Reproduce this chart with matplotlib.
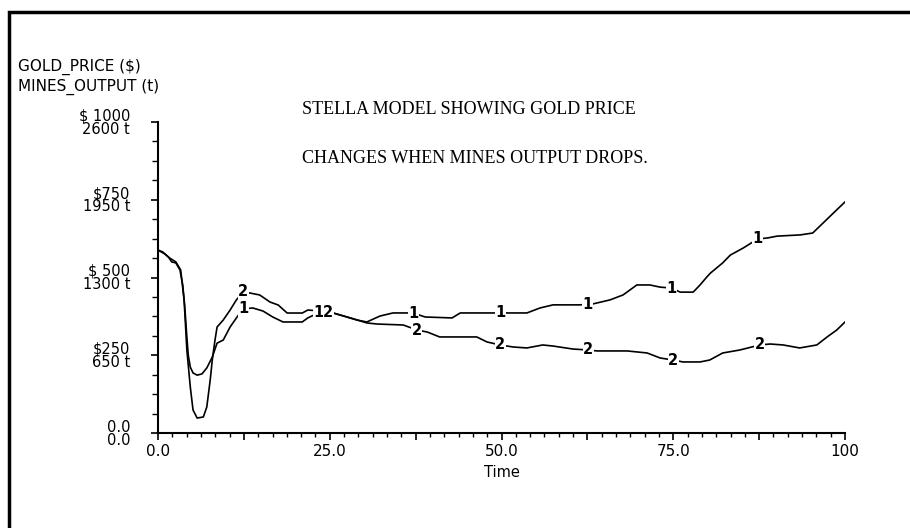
import matplotlib.pyplot as plt
import numpy as np
from matplotlib.patches import Rectangle
from matplotlib.ticker import MultipleLocator, FixedLocator

# series 1: gold price ($)
time_1 = [0, 0.7, 1.5, 2.0, 2.6, 3.2, 3.6, 3.9, 4.2, 4.4, 4.7, 5.1, 5.7, 6.4, 7.1, 7.9, 8.6, 9.5,
          10.5, 11.7, 12.4, 13.8, 15.3, 16.7, 18.2, 21.0, 21.8, 23.6, 25.5, 27.5, 29.0, 30.4,
          32.3, 34.2, 37.1, 38.9, 42.8, 44.0, 47.9, 49.8, 53.7, 55.6, 57.5, 61.4, 63.3, 65.8,
          67.7, 69.7, 71.6, 73.1, 74.8, 76.0, 77.9, 78.9, 79.9, 80.4, 82.2, 83.3, 85.2, 87.3,
          88.7, 90.1, 93.5, 95.3, 96.8, 98.3, 100]
gold_price = [588, 582, 566, 550, 547, 524, 476, 405, 309, 251, 212, 193, 186, 190, 209, 244, 289, 299,
              341, 379, 399, 402, 392, 373, 357, 357, 370, 389, 386, 373, 363, 357,
              376, 386, 386, 373, 370, 386, 386, 386, 386, 402, 412, 412, 415, 428,
              444, 476, 476, 469, 466, 453, 453, 476, 502, 514, 547, 572, 595, 624,
              627, 633, 637, 643, 675, 707, 743]

# series 2: mines output (t)
time_2 = [0, 1.0, 1.7, 2.6, 3.3, 3.8, 4.2, 4.7, 5.1, 5.7, 6.6, 7.1, 7.6, 7.9, 8.3, 8.6, 9.5, 10.5,
          11.4, 12.4, 13.4, 14.8, 16.3, 17.5, 18.8, 21.0, 21.8, 23.6, 25.5, 27.5, 29.0, 30.4,
          31.9, 35.7, 37.7, 39.2, 41.0, 46.4, 47.9, 49.8, 51.7, 53.7, 56.0, 57.5, 60.4, 62.6,
          63.9, 68.3, 71.2, 73.1, 75.0, 76.4, 78.9, 80.3, 82.2, 84.7, 87.6, 89.1, 91.0, 93.4,
          95.9, 97.4, 98.8, 100]
mines_output = [1530, 1496, 1463, 1430, 1363, 1112, 694, 385, 192, 125, 134, 217, 443, 610, 778, 886, 945, 1028,
                1112, 1179, 1170, 1154, 1095, 1070, 1003, 1003, 1028, 1020, 1003, 970, 945, 920,
                911, 903, 861, 844, 803, 803, 761, 736, 719, 711, 736, 727, 702, 694,
                686, 686, 669, 627, 610, 594, 594, 610, 669, 694, 736, 744, 736, 711,
                736, 803, 861, 928]

label_times_1 = [12.5, 23.4, 37.2, 49.8, 62.5, 74.8, 87.3]
label_times_2 = [12.4, 24.8, 37.7, 49.8, 62.6, 75.0, 87.6]

gold_ticks = [0, 250, 500, 750, 1000]
gold_tick_labels = ['0.0', '$250', '$ 500', '$750', '$ 1000']
mines_tick_labels = ['0.0', '650 t', '1300 t', '1950 t', '2600 t']
time_ticks = [0, 12.5, 25, 37.5, 50, 62.5, 75, 87.5, 100]
time_tick_labels = ['0.0', '', '25.0', '', '50.0', '', '75.0', '', '100']

fig = plt.figure(figsize=(9.1, 5.28), dpi=100)
ax = fig.add_axes([158/910, 1-433/528, (845-158)/910, (433-122)/528])

ax.plot(time_1, gold_price, color='black', lw=1.2)
ax.set_xlim(0, 100)
ax.set_ylim(0, 1000)

ax2 = ax.twinx()
ax2.plot(time_2, mines_output, color='black', lw=1.2)
ax2.set_ylim(0, 2600)
ax2.axis('off')

# curve number labels
for t in label_times_1:
    ax2.text(t, np.interp(t, time_1, gold_price), '1', transform=ax.transData,
             ha='center', va='center', fontsize=10.5, fontweight='bold', zorder=5,
             bbox=dict(fc='white', ec='none', pad=0.3))
for t in label_times_2:
    ax2.text(t, np.interp(t, time_2, mines_output), '2',
             ha='center', va='center', fontsize=10.5, fontweight='bold', zorder=5,
             bbox=dict(fc='white', ec='none', pad=0.3))

for s in ['top', 'right']:
    ax.spines[s].set_visible(False)
ax.spines['left'].set_linewidth(1.5)
ax.spines['bottom'].set_linewidth(1.5)

ax.yaxis.set_major_locator(FixedLocator(gold_ticks))
ax.set_yticklabels([g + '\n' + m for g, m in zip(gold_tick_labels, mines_tick_labels)],
                   linespacing=0.85)
ax.yaxis.set_minor_locator(MultipleLocator(62.5))
ax.xaxis.set_major_locator(FixedLocator(time_ticks))
ax.set_xticklabels(time_tick_labels)
ax.xaxis.set_minor_locator(MultipleLocator(100/48))
ax.tick_params(axis='y', which='major', length=5, width=1.2, pad=15, labelsize=10.5)
ax.tick_params(axis='y', which='minor', length=4, width=1)
ax.tick_params(axis='x', which='major', length=5, width=1.2, pad=3, labelsize=11)
ax.tick_params(axis='x', which='minor', length=3, width=1)
ax.set_xlabel('Time', fontsize=10.5, labelpad=4)

fig.text(18/910, 1-67/528, 'GOLD_PRICE ($)', fontsize=11, va='center')
fig.text(18/910, 1-87/528, 'MINES_OUTPUT (t)', fontsize=11, va='center')
fig.text(302/910, 1-110/528, 'STELLA MODEL SHOWING GOLD PRICE', fontsize=13,
         family='Liberation Serif', va='center')
fig.text(302/910, 1-158/528, 'CHANGES WHEN MINES OUTPUT DROPS.', fontsize=13,
         family='Liberation Serif', va='center')

fig.patches.append(Rectangle((9/910, -0.1), 1.2, 1.1-12/528, transform=fig.transFigure,
                             fill=False, ec='black', lw=2.5))

plt.savefig('out.png', dpi=100)
